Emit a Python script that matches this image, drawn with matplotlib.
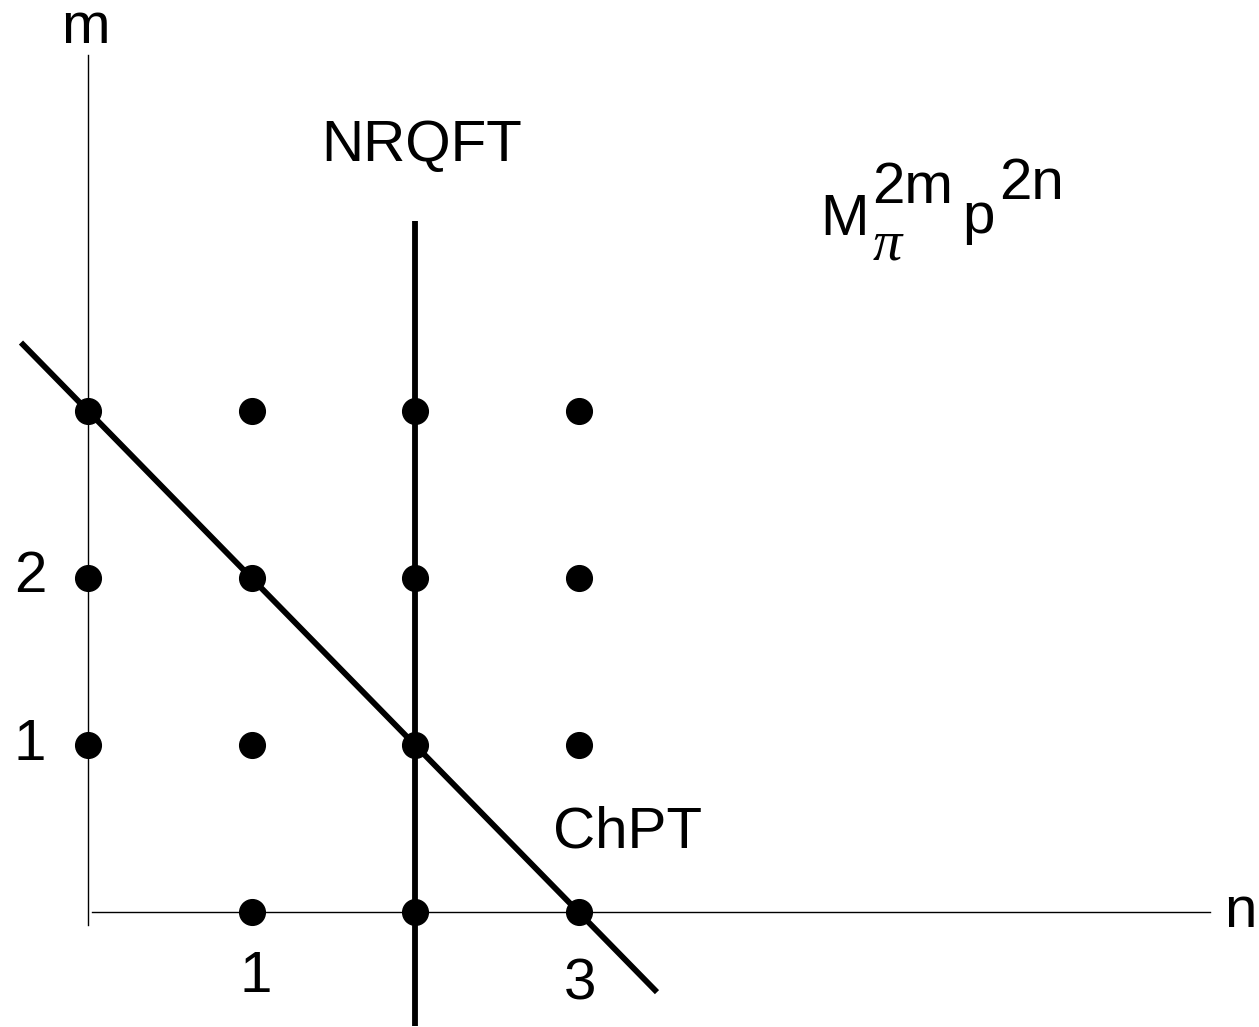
import matplotlib.pyplot as plt

# lattice points (n, m)
dot_n = [0, 1, 2, 3, 0, 1, 2, 3, 0, 1, 2, 3, 1, 2, 3]
dot_m = [3, 3, 3, 3, 2, 2, 2, 2, 1, 1, 1, 1, 0, 0, 0]

# ChPT line n + m = 3 and NRQFT line n = 2
chpt_n = [-0.41, 3.48]
chpt_m = [3 - v for v in chpt_n]
nrqft_n = [2, 2]
nrqft_m = [-0.68, 4.14]

plt.rcParams['font.family'] = ['Liberation Sans', 'DejaVu Sans']

W, H = 1259, 1027
X0, Y0, SX, SY = 88, 912, 163.5, 167


def px(x, y):
    # pixel position -> data position (for placing labels)
    return (x - X0) / SX, (Y0 - y) / SY


fig = plt.figure(figsize=(W / 100, H / 100), dpi=100)
ax = fig.add_axes([0, 0, 1, 1])
ax.set_xlim(-X0 / SX, (W - X0) / SX)
ax.set_ylim((Y0 - H) / SY, Y0 / SY)
ax.axis("off")

# axes
ax.plot([0, 0], [-0.08, 5.13], color="black", lw=1.0)
ax.plot([0.024, 6.86], [0, 0], color="black", lw=1.0)

ax.plot(chpt_n, chpt_m, color="black", lw=4.2, solid_capstyle="butt")
ax.plot(nrqft_n, nrqft_m, color="black", lw=4.2, solid_capstyle="butt")
ax.plot(dot_n, dot_m, "o", color="black", markersize=18.5, zorder=5)

fs = 42
labels = [("m", 85, 28), ("n", 1240, 912), ("2", 30, 577), ("1", 30, 745),
          ("1", 256, 977), ("3", 580, 984), ("NRQFT", 422, 146),
          ("ChPT", 628, 833)]
for s, x, y in labels:
    ax.text(*px(x, y), s, fontsize=fs, ha="center", va="center")

# M_pi^{2m} p^{2n}
ax.text(*px(820, 235), "M", fontsize=fs, ha="left", va="baseline")
ax.text(*px(872, 203), "2m", fontsize=fs, ha="left", va="baseline")
ax.text(*px(873, 259), "π", fontsize=fs, ha="left", va="baseline",
        family="Liberation Serif", style="italic")
ax.text(*px(962, 233), "p", fontsize=fs, ha="left", va="baseline")
ax.text(*px(999, 199), "2n", fontsize=fs, ha="left", va="baseline")

fig.savefig("out.png", dpi=100)
